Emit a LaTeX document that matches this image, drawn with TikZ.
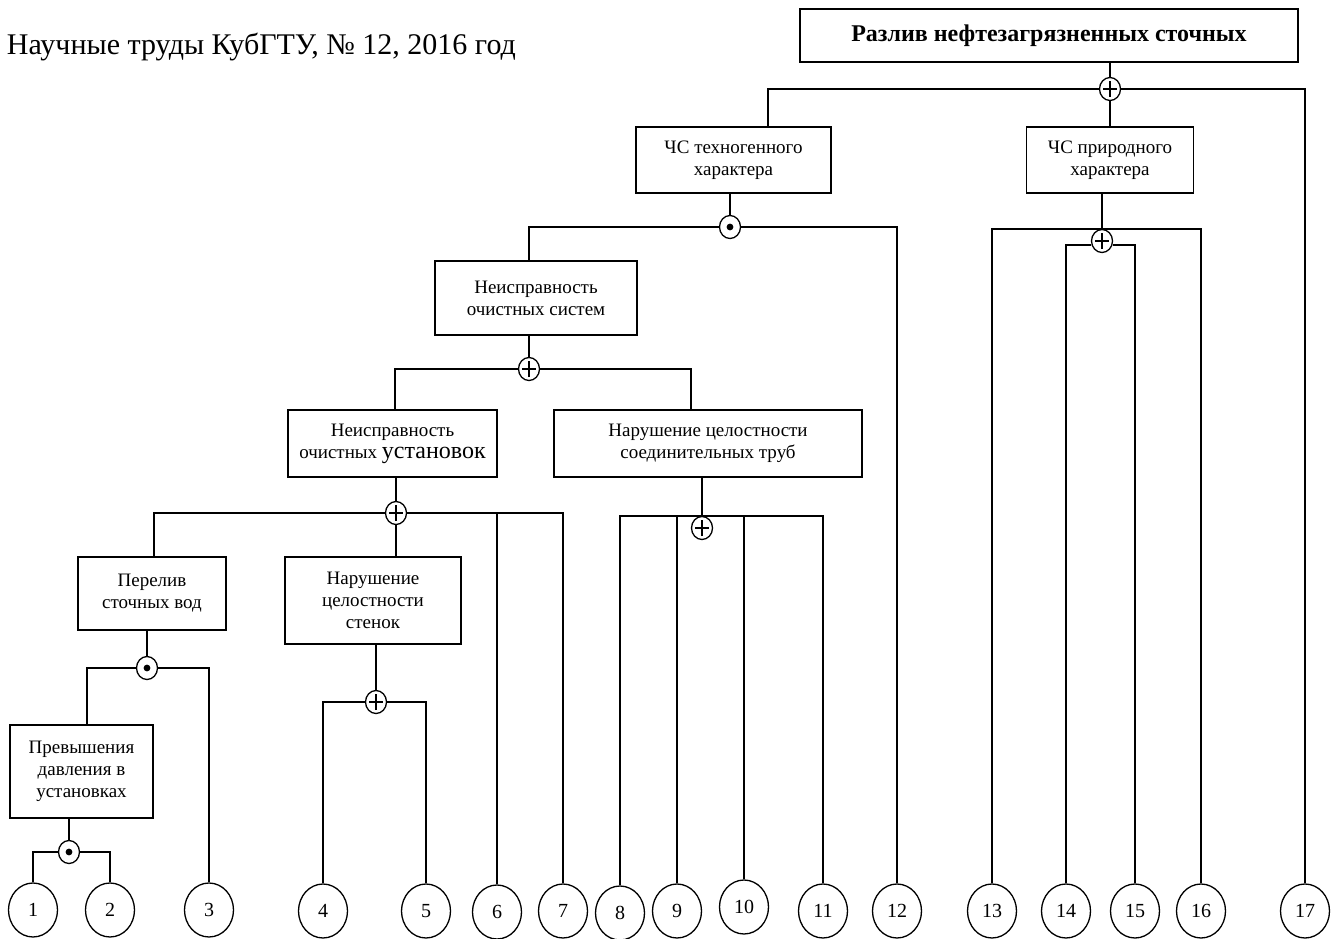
\documentclass[tikz,border=0pt]{standalone}
\usepackage{fontspec}
\setmainfont{Liberation Serif}
\usetikzlibrary{shapes.geometric}
\tikzset{
    box/.style={draw, rectangle, align=center, inner sep=0pt, font=\fontsize{19}{22}\selectfont},
    leaf/.style={draw, ellipse, inner sep=0pt, minimum width=49pt, minimum height=54pt, font=\fontsize{20}{22}\selectfont},
    gate/.style={draw, ellipse, fill=white, inner sep=0pt, minimum width=21pt, minimum height=23pt},
    orgate/.style={gate, path picture={
        \draw ([xshift=-7pt]path picture bounding box.center) -- ([xshift=7pt]path picture bounding box.center);
        \draw ([yshift=-8pt]path picture bounding box.center) -- ([yshift=8pt]path picture bounding box.center);}},
    andgate/.style={gate, path picture={\fill[black] (path picture bounding box.center) circle(3.4pt);}},
}
\begin{document}
\begin{tikzpicture}[x=1pt, y=-1pt, line width=1.3pt]
        \useasboundingbox (0,0) rectangle (1338,939);
        \node[anchor=west, font=\fontsize{30}{32}\selectfont] (head) at (3,47) {Научные труды КубГТУ, № 12, 2016 год};
        \node[box, minimum width=498pt, minimum height=53pt, font=\bfseries\fontsize{24}{26}\selectfont] (title) at (1049,35.5) {Разлив нефтезагрязненных сточных};
        \node[box, minimum width=195pt, minimum height=66pt] (tech) at (733.5,160) {ЧС техногенного\\характера};
        \node[box, minimum width=167pt, minimum height=66pt] (prir) at (1110,160) {ЧС природного\\характера};
        \node[box, minimum width=202pt, minimum height=74pt] (sys) at (536,298) {Неисправность\\очистных систем};
        \node[box, minimum width=209pt, minimum height=67pt] (ust) at (392.5,443.5) {Неисправность\\очистных {\fontsize{24}{22}\selectfont установок}};
        \node[box, minimum width=308pt, minimum height=67pt] (pipe) at (708,443.5) {Нарушение целостности\\соединительных труб};
        \node[box, minimum width=148pt, minimum height=73pt] (perel) at (152,593.5) {Перелив\\сточных вод};
        \node[box, minimum width=176pt, minimum height=87pt] (wall) at (373,600.5) {Нарушение\\целостности\\стенок};
        \node[box, minimum width=143pt, minimum height=93pt] (pres) at (81.5,771.5) {Превышения\\давления в\\установках};
        \node[orgate] (gTop) at (1110,89) {};
        \node[andgate] (gTech) at (730,227) {};
        \node[orgate] (gPrir) at (1102,241) {};
        \node[orgate] (gSys) at (529,369) {};
        \node[orgate] (gUst) at (396,513) {};
        \node[orgate] (gPipe) at (702,528) {};
        \node[andgate] (gPerel) at (147,668) {};
        \node[andgate] (gPres) at (69,852) {};
        \node[orgate] (gWall) at (376,702) {};
        \foreach \n/\x/\y in {1/33/910, 2/110/910, 3/209/910, 4/323/911, 5/426/911, 6/497/912, 7/563/911, 8/620/913, 9/677/911,
            10/744/907, 11/823/911, 12/897/911, 13/992/911, 14/1066/911, 15/1135/911, 16/1201/911, 17/1305/911}
            \node[leaf] (l\n) at (\x,\y) {\n};
        \draw (title.south -| gTop.north) -- (gTop.north);
        \draw (gTop.west) -| ([xshift=34.5pt]tech.north);
        \draw (gTop.south) -- (prir.north -| gTop.south);
        \draw (gTop.east) -| (l17.north);
        \draw (tech.south -| gTech.north) -- (gTech.north);
        \draw (gTech.west) -| ([xshift=-7pt]sys.north);
        \draw (gTech.east) -| (l12.north);
        \draw (prir.south -| gPrir.north) -- (gPrir.north);
        \draw (l13.north) |- (gPrir.north) -| (l16.north);
        \draw (l14.north) |- ([yshift=-4pt]gPrir.west);
        \draw (l15.north) |- ([yshift=-4pt]gPrir.east);
        \draw (sys.south -| gSys.north) -- (gSys.north);
        \draw (gSys.west) -| ([xshift=2.5pt]ust.north);
        \draw (gSys.east) -| ([xshift=-17pt]pipe.north);
        \draw (ust.south -| gUst.north) -- (gUst.north);
        \draw (gUst.west) -| ([xshift=2pt]perel.north);
        \draw (gUst.south) -- (wall.north -| gUst.south);
        \draw (gUst.east) -| (l7.north);
        \draw (l6.north) -- (l6.north |- gUst.east);
        \draw (pipe.south -| gPipe.north) -- (gPipe.north);
        \draw (l8.north) |- (gPipe.north) -| (l11.north);
        \draw (l9.north) -- (l9.north |- gPipe.north);
        \draw (l10.north) -- (l10.north |- gPipe.north);
        \draw (perel.south -| gPerel.north) -- (gPerel.north);
        \draw (gPerel.west) -| ([xshift=5.5pt]pres.north);
        \draw (gPerel.east) -| (l3.north);
        \draw (pres.south -| gPres.north) -- (gPres.north);
        \draw (gPres.west) -| (l1.north);
        \draw (gPres.east) -| (l2.north);
        \draw (wall.south -| gWall.north) -- (gWall.north);
        \draw (gWall.west) -| (l4.north);
        \draw (gWall.east) -| (l5.north);
    \end{tikzpicture}
\end{document}
